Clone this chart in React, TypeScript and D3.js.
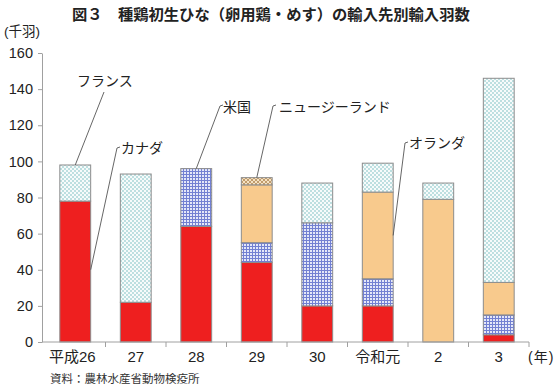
import React, { useRef, useEffect } from 'react';
import * as d3 from 'd3';

// 年次
const categories = ['平成26', '27', '28', '29', '30', '令和元', '2', '3'];
// 輸入先別輸入羽数（千羽）
const canada = [78, 22, 64, 44, 20, 20, 0, 4];
const usa = [0, 0, 32, 11, 46, 15, 0, 11];
const netherlands = [0, 0, 0, 32, 0, 48, 79, 18];
const newZealand = [0, 0, 0, 4, 0, 0, 0, 0];
const france = [20, 71, 0, 0, 22, 16, 9, 113];
const yTicks = [0, 20, 40, 60, 80, 100, 120, 140, 160];

const seriesNames = ['カナダ', '米国', 'オランダ', 'ニュージーランド', 'フランス'];
const seriesValues = [canada, usa, netherlands, newZealand, france];

const JP = '"Liberation Sans", "Noto Sans CJK JP", sans-serif';

const App = () => {
    const svgRef = useRef<SVGSVGElement>(null);
    const width = 558;
    const height = 388;

    useEffect(() => {
        const svg = d3.select(svgRef.current)
            .attr('width', width)
            .attr('height', height);
        svg.selectAll('*').remove();

        const x0 = 45, x1 = 529, yBase = 342, yTop = 53;

        const xScale = d3.scaleBand()
            .domain(categories)
            .range([x0, x1])
            .paddingInner(0.49)
            .paddingOuter(0.245);

        const yScale = d3.scaleLinear()
            .domain([0, 160])
            .range([yBase, yTop]);

        // patterns
        const defs = svg.append('defs');
        const pUs = defs.append('pattern').attr('id', 'p-us')
            .attr('patternUnits', 'userSpaceOnUse').attr('width', 3).attr('height', 3);
        pUs.append('rect').attr('width', 3).attr('height', 3).attr('fill', '#e4e7f8');
        pUs.append('rect').attr('width', 1).attr('height', 3).attr('fill', '#7280d2');
        pUs.append('rect').attr('width', 3).attr('height', 1).attr('fill', '#7280d2');

        const pFr = defs.append('pattern').attr('id', 'p-fr')
            .attr('patternUnits', 'userSpaceOnUse').attr('width', 4).attr('height', 4);
        pFr.append('rect').attr('width', 4).attr('height', 4).attr('fill', '#f7fbfb');
        pFr.append('rect').attr('width', 2).attr('height', 2).attr('fill', '#bddfe0');
        pFr.append('rect').attr('x', 2).attr('y', 2).attr('width', 2).attr('height', 2).attr('fill', '#bddfe0');

        const pNz = defs.append('pattern').attr('id', 'p-nz')
            .attr('patternUnits', 'userSpaceOnUse').attr('width', 4).attr('height', 4);
        pNz.append('rect').attr('width', 4).attr('height', 4).attr('fill', '#f4e2c4');
        pNz.append('path').attr('d', 'M0,4 L4,0 M0,0 L4,4').attr('stroke', '#b48a55').attr('stroke-width', 0.8);

        const fills = ['#ee1f1f', 'url(#p-us)', '#f8ca8d', 'url(#p-nz)', 'url(#p-fr)'];

        // title
        svg.append('text')
            .attr('x', 72).attr('y', 20)
            .attr('font-family', JP).attr('font-size', 15.3).attr('font-weight', 'bold')
            .attr('fill', '#222')
            .text('図３　種鶏初生ひな（卵用鶏・めす）の輸入先別輸入羽数');

        svg.append('text')
            .attr('x', 4).attr('y', 36)
            .attr('font-family', JP).attr('font-size', 13.5).attr('fill', '#222')
            .text('(千羽)');

        // stacked bars
        const table = categories.map((c, i) => {
            const row: any = { cat: c };
            seriesNames.forEach((s, k) => { row[s] = seriesValues[k][i]; });
            return row;
        });
        const stacked = d3.stack().keys(seriesNames)(table);

        stacked.forEach((layer, k) => {
            svg.append('g').selectAll('rect')
                .data(layer.filter(d => d[1] - d[0] > 0))
                .enter()
                .append('rect')
                .attr('x', d => xScale(d.data.cat as string))
                .attr('y', d => yScale(d[1]))
                .attr('width', xScale.bandwidth())
                .attr('height', d => yScale(d[0]) - yScale(d[1]))
                .attr('fill', fills[k])
                .attr('stroke', '#8c8c8c')
                .attr('stroke-width', 1);
        });

        // y axis
        const yAxis = svg.append('g')
            .attr('transform', `translate(${x0 - 3}, 0)`)
            .call(d3.axisLeft(yScale).tickValues(yTicks).tickSize(4).tickSizeOuter(0).tickPadding(5));
        yAxis.select('.domain').attr('stroke', '#a0a0a0');
        yAxis.selectAll('line').attr('stroke', '#a0a0a0');
        yAxis.selectAll('text')
            .attr('font-family', JP).attr('font-size', 14.5).attr('fill', '#222');

        // x axis
        const bounds = categories.map(c => xScale(c)! - (xScale.step() - xScale.bandwidth()) / 2).concat([x1]);
        const xg = svg.append('g');
        xg.append('line')
            .attr('x1', x0 - 3).attr('x2', x1).attr('y1', yBase).attr('y2', yBase)
            .attr('stroke', '#a0a0a0');
        xg.selectAll('.xt').data(bounds.slice(1)).enter().append('line')
            .attr('x1', d => d).attr('x2', d => d)
            .attr('y1', yBase).attr('y2', yBase + 5)
            .attr('stroke', '#a0a0a0');
        xg.selectAll('.xl').data(categories).enter().append('text')
            .attr('x', d => xScale(d)! + xScale.bandwidth() / 2 + (d === '平成26' ? -3 : 0))
            .attr('y', 362)
            .attr('text-anchor', 'middle')
            .attr('font-family', JP).attr('font-size', 15).attr('fill', '#222')
            .text(d => d);
        xg.append('text')
            .attr('x', 528).attr('y', 362)
            .attr('font-family', JP).attr('font-size', 14).attr('fill', '#222')
            .attr('letter-spacing', 1)
            .text('(年)');

        // leader labels
        const bx = (i: number) => xScale(categories[i])!;
        const bw = xScale.bandwidth();
        const leaders = [
            { name: 'フランス', tx: 77, ty: 86, from: [104, 92], to: [bx(0) + bw / 2, yScale(98)], hook: false },
            { name: 'カナダ', tx: 121, ty: 153, from: [117, 148], to: [bx(0) + bw, yScale(40)], hook: true },
            { name: '米国', tx: 223, ty: 112, from: [220, 106], to: [bx(2) + bw / 2, yScale(96)], hook: true },
            { name: 'ニュージーランド', tx: 279, ty: 112, from: [273, 106], to: [bx(3) + bw / 2, yScale(91)], hook: true },
            { name: 'オランダ', tx: 409, ty: 148, from: [405, 143], to: [bx(5) + bw, yScale(59)], hook: true },
        ];
        leaders.forEach(l => {
            svg.append('line')
                .attr('x1', l.from[0]).attr('y1', l.from[1])
                .attr('x2', l.to[0]).attr('y2', l.to[1])
                .attr('stroke', '#555').attr('stroke-width', 0.9);
            if (l.hook) {
                svg.append('line')
                    .attr('x1', l.from[0]).attr('y1', l.from[1])
                    .attr('x2', l.from[0] + 3).attr('y2', l.from[1] - 1)
                    .attr('stroke', '#555').attr('stroke-width', 0.9);
            }
            svg.append('text')
                .attr('x', l.tx).attr('y', l.ty)
                .attr('font-family', JP).attr('font-size', 14).attr('fill', '#222')
                .text(l.name);
        });

        // source
        svg.append('text')
            .attr('x', 50).attr('y', 383)
            .attr('font-family', JP).attr('font-size', 11.5).attr('fill', '#333')
            .text('資料：農林水産省動物検疫所');
    }, []);

    return (
        <svg ref={svgRef} style={{ position: 'absolute', left: 0, top: 0, background: '#fff' }}></svg>
    );
};

export default App;
